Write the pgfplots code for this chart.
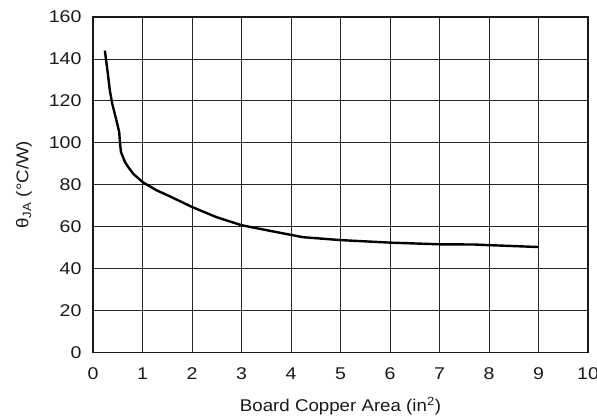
\documentclass[border=0pt]{standalone}
\usepackage{fontspec}
\setmainfont{Liberation Sans}[FakeStretch=1.1]
\newfontfamily\tickfont{Liberation Sans}[FakeStretch=1.15]
\usepackage{pgfplots}
\pgfplotsset{compat=1.18}
\begin{document}
\begin{tikzpicture}
\begin{axis}[
  name=ax,
  scale only axis,
  width=495pt, height=335.5pt,
  xmin=0, xmax=10, ymin=0, ymax=160,
  xtick={0,1,...,10}, ytick={0,20,...,160},
  grid=major,
  major grid style={line width=0.8pt, black!85},
  axis line style={line width=1.8pt, black!90},
  major tick length=0pt,
  /pgf/number format/assume math mode=true,
  ticklabel style={font=\tickfont\fontsize{17}{19}\selectfont, text=black!90},
  yticklabel style={xshift=-8pt},
  xticklabel style={yshift=-12pt},
  xlabel={Board Copper Area (in\textsuperscript{2})},
  ylabel={θ\textsubscript{JA} (°C/W)},
  label style={font=\fontsize{17}{19}\selectfont, text=black!90},
  xlabel style={yshift=-10pt},
  ylabel style={yshift=10pt},
]
\addplot[black, line width=2.4pt, line join=round] coordinates {
(0.24,144) (0.30,133) (0.34,125) (0.39,118.5) (0.47,111) (0.53,105)
(0.545,100) (0.565,95.6) (0.645,90.9) (0.71,88.5) (0.81,85.3) (1.0,81.3)
(1.28,77.4) (1.55,74.5) (2.0,69.4) (2.5,64.5) (3.0,60.7) (3.58,58)
(4.24,55) (5.0,53.6) (6.0,52.4) (7.0,51.6) (7.7,51.5) (8.0,51.2) (9.0,50.3)
};
\end{axis}
\pgfresetboundingbox
\path[use as bounding box] ([xshift=-93pt,yshift=-62.5pt]ax.south west) rectangle ([xshift=9pt,yshift=17pt]ax.north east);
\end{tikzpicture}
\end{document}
